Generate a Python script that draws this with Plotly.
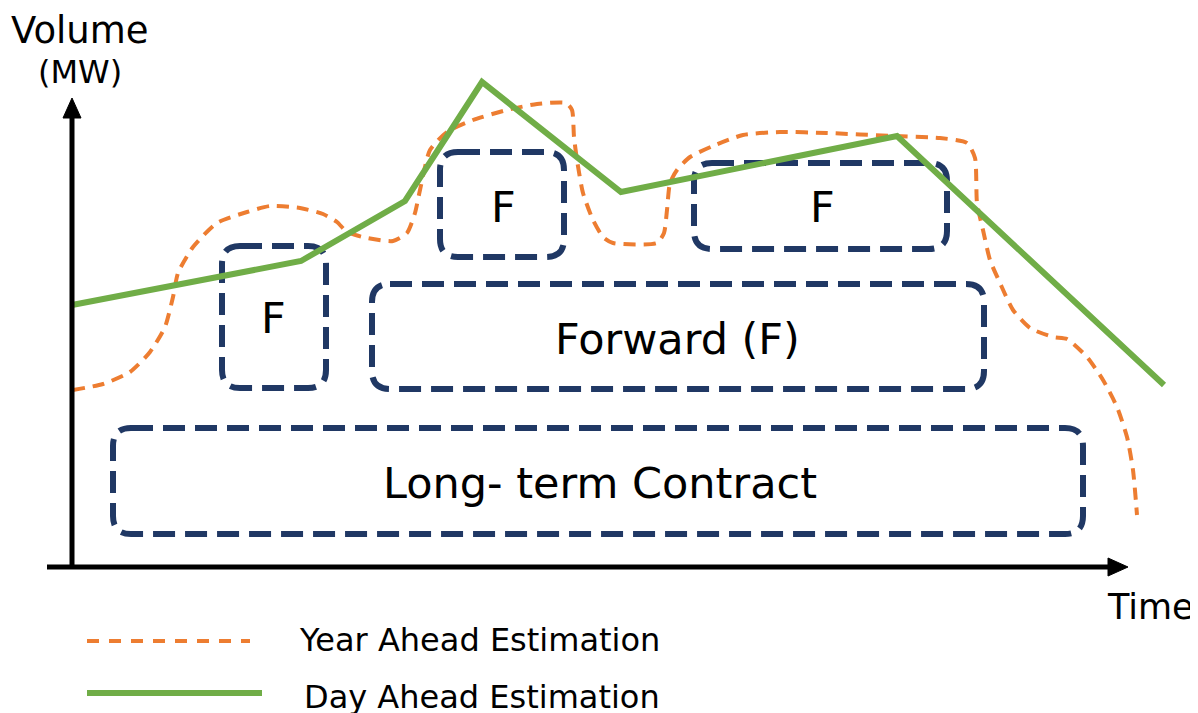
import plotly.graph_objects as go

# ---------------- data ----------------
year_ahead_x = [73, 103, 130, 150, 165, 173, 178, 193, 217, 247, 270, 300, 323, 337, 347, 367, 393,
                407, 415, 420, 430, 447, 473, 507, 537, 566, 572, 574, 577, 583, 593, 603, 613, 657,
                664, 667, 670, 677, 690, 713, 743, 780, 827, 893, 940, 967, 975, 977, 983, 990,
                1000, 1013, 1030, 1053, 1067, 1087, 1103, 1117, 1127, 1133, 1137]
year_ahead_y = [390, 384, 372, 352, 327, 297, 273, 247, 223, 212, 206, 208, 214, 222, 232, 238, 241,
                233, 213, 190, 150, 132, 120, 110, 104, 103, 110, 137, 160, 193, 220, 237, 243, 243,
                233, 210, 183, 170, 157, 146, 135, 132, 133, 136, 138, 143, 158, 203, 230, 260,
                283, 310, 328, 337, 339, 357, 380, 407, 437, 470, 515]

day_ahead_x = [72, 301, 405, 482, 621, 897, 1164]
day_ahead_y = [305, 261, 201, 82, 192, 136, 385]

box_labels = ["Long- term Contract", "Forward (F)", "F", "F", "F"]
box_x0 = [113, 372, 222, 440, 694]
box_x1 = [1083, 984, 326, 564, 947]
box_y0 = [428, 284, 246, 152, 163]
box_y1 = [534, 389, 388, 257, 249]
label_x = [600, 677, 273, 503, 822]
label_y = [483, 339, 318, 207, 207]

series_names = ["Year Ahead Estimation", "Day Ahead Estimation"]
axis_titles = ["Volume", "(MW)", "Time"]

# ---------------- styles ----------------
NAVY = "#203864"
ORANGE = "#ED7D31"
GREEN = "#70AD47"
FONT = "DejaVu Sans"

W, H = 1198, 713
OFF = 8  # default page body margin
fig = go.Figure()


def rounded_path(x0, y0, x1, y1, r):
    return (f"M {x0 + r},{y0} L {x1 - r},{y0} Q {x1},{y0} {x1},{y0 + r} "
            f"L {x1},{y1 - r} Q {x1},{y1} {x1 - r},{y1} "
            f"L {x0 + r},{y1} Q {x0},{y1} {x0},{y1 - r} "
            f"L {x0},{y0 + r} Q {x0},{y0} {x0 + r},{y0} Z")


shapes = []
for x0, x1, y0, y1 in zip(box_x0, box_x1, box_y0, box_y1):
    shapes.append(dict(type="path", path=rounded_path(x0, y0, x1, y1, 18),
                       xref="x", yref="y", layer="below",
                       line=dict(color=NAVY, width=6, dash="22px,10px")))

# axes lines + arrowheads
shapes.append(dict(type="line", x0=72, x1=72, y0=568, y1=114, xref="x", yref="y",
                   line=dict(color="black", width=5)))
shapes.append(dict(type="path", path="M 72,98 L 81,118 L 63,118 Z", xref="x", yref="y",
                   fillcolor="black", line=dict(color="black", width=1)))
shapes.append(dict(type="line", x0=47, x1=1112, y0=567, y1=567, xref="x", yref="y",
                   line=dict(color="black", width=5)))
shapes.append(dict(type="path", path="M 1128,567 L 1108,558 L 1108,576 Z", xref="x", yref="y",
                   fillcolor="black", line=dict(color="black", width=1)))

# legend samples
shapes.append(dict(type="line", x0=87, x1=250, y0=641, y1=641, xref="x", yref="y",
                   line=dict(color=ORANGE, width=4, dash="12px,10px")))
shapes.append(dict(type="line", x0=87, x1=262, y0=693, y1=693, xref="x", yref="y",
                   line=dict(color=GREEN, width=6)))

fig.add_trace(go.Scatter(x=year_ahead_x, y=year_ahead_y, mode="lines",
                         line=dict(color=ORANGE, width=4, dash="12px,8px", shape="spline", smoothing=0.6),
                         name=series_names[0], hoverinfo="skip"))
fig.add_trace(go.Scatter(x=day_ahead_x, y=day_ahead_y, mode="lines",
                         line=dict(color=GREEN, width=6),
                         name=series_names[1], hoverinfo="skip"))

annotations = []
for lab, lx, ly in zip(box_labels, label_x, label_y):
    annotations.append(dict(x=lx, y=ly, text=lab, showarrow=False, xref="x", yref="y",
                            font=dict(family=FONT, size=43, color="black"),
                            xanchor="center", yanchor="middle"))
annotations.append(dict(x=80, y=30, text=axis_titles[0], showarrow=False, xref="x", yref="y",
                        font=dict(family=FONT, size=37, color="black"), xanchor="center", yanchor="middle"))
annotations.append(dict(x=80, y=72, text=axis_titles[1], showarrow=False, xref="x", yref="y",
                        font=dict(family=FONT, size=32, color="black"), xanchor="center", yanchor="middle"))
annotations.append(dict(x=1150, y=607, text=axis_titles[2], showarrow=False, xref="x", yref="y",
                        font=dict(family=FONT, size=35, color="black"), xanchor="center", yanchor="middle"))
annotations.append(dict(x=479, y=640, text=series_names[0], showarrow=False, xref="x", yref="y",
                        font=dict(family=FONT, size=32, color="black"), xanchor="center", yanchor="middle"))
annotations.append(dict(x=482, y=697, text=series_names[1], showarrow=False, xref="x", yref="y",
                        font=dict(family=FONT, size=32, color="black"), xanchor="center", yanchor="middle"))

fig.update_layout(
    width=W - OFF, height=H - OFF,
    margin=dict(l=0, r=0, t=0, b=0),
    paper_bgcolor="white", plot_bgcolor="white",
    showlegend=False,
    shapes=shapes,
    annotations=annotations,
    xaxis=dict(range=[OFF, W], visible=False, fixedrange=True),
    yaxis=dict(range=[H, OFF], visible=False, fixedrange=True),
)

fig.write_html("out.html", config={"displayModeBar": False})
